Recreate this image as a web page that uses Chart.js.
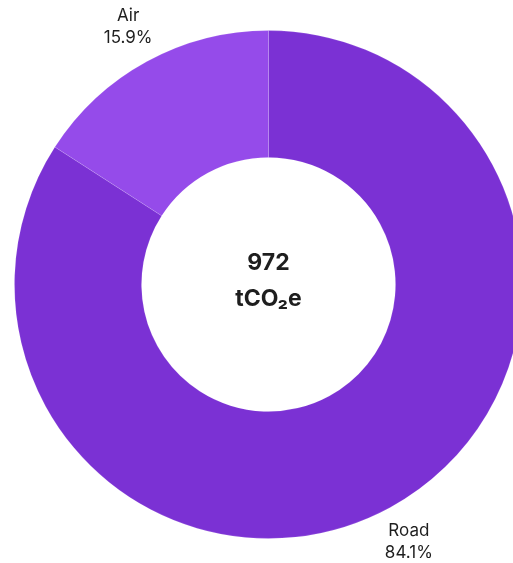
<!DOCTYPE html>
<html>
<head>
<meta charset="utf-8">
<script src="https://cdn.jsdelivr.net/npm/chart.js@4"></script>
<style>
html,body{margin:0;padding:0;background:#fff;overflow:hidden;width:513px;height:563px;}
#wrap{position:absolute;left:0;top:0;width:536px;height:568px;}
</style>
</head>
<body>
<div id="wrap"><canvas id="c"></canvas></div>
<script>
const categories = ["Road", "Air"];
const percentages = [84.1, 15.9];
const colors = ["#7b31d4", "#954bea"];
const totalValue = "972";
const totalUnit = "tCO₂e";

const FONT = "Inter, 'Open Sans', sans-serif";
const TEXT = "#1e1e1e";

const labelPlugin = {
  id: "outerLabels",
  afterDatasetsDraw(chart) {
    const ctx = chart.ctx;
    const meta = chart.getDatasetMeta(0);
    ctx.save();
    ctx.fillStyle = TEXT;
    ctx.textAlign = "center";
    ctx.textBaseline = "middle";
    meta.data.forEach((arc, i) => {
      const p = arc.getProps(["x","y","startAngle","endAngle","outerRadius"], true);
      const mid = (p.startAngle + p.endAngle) / 2;
      const r = p.outerRadius + 39;
      const x = p.x + Math.cos(mid) * r;
      const y = p.y + Math.sin(mid) * r;
      ctx.font = "17px " + FONT;
      ctx.fillText(categories[i], x, y - 11);
      ctx.fillText(percentages[i].toFixed(1) + "%", x, y + 11);
    });
    const a = meta.data[0];
    ctx.font = "bold 23px " + FONT;
    ctx.fillText(totalValue, a.x, a.y - 21);
    ctx.fillText(totalUnit, a.x, a.y + 15);
    ctx.restore();
  }
};

new Chart(document.getElementById("c"), {
  type: "doughnut",
  data: {
    labels: categories,
    datasets: [{
      data: percentages,
      backgroundColor: colors,
      borderColor: "rgba(255,255,255,0.12)",
      borderWidth: 1,
      hoverOffset: 0
    }]
  },
  options: {
    responsive: true,
    maintainAspectRatio: false,
    animation: false,
    cutout: "50%",
    layout: { padding: { left: 14, right: 13, top: 30, bottom: 29 } },
    plugins: { legend: { display: false }, tooltip: { enabled: false } }
  },
  plugins: [labelPlugin]
});
</script>
</body>
</html>
